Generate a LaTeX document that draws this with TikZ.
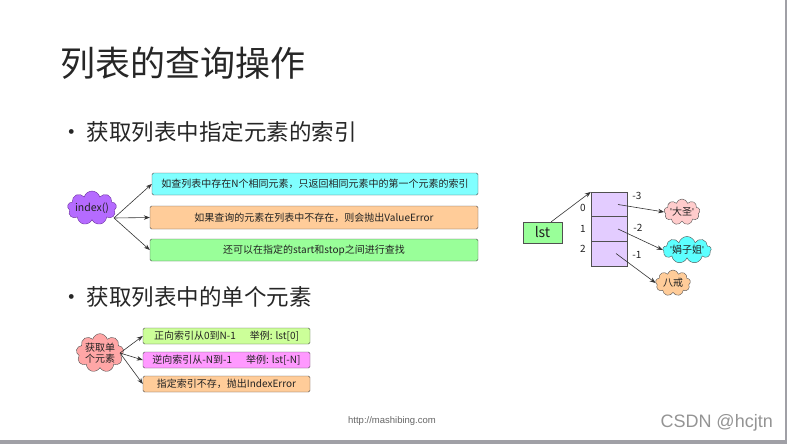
\documentclass[tikz,border=0pt]{standalone}
\usepackage{fontspec}
\setmainfont{Noto Sans CJK SC}
\newfontfamily\arialf{Liberation Sans}
\usetikzlibrary{shapes.symbols,arrows.meta}
\definecolor{boxline}{HTML}{505050}
\definecolor{arrc}{HTML}{333333}
\definecolor{txtc}{HTML}{222222}
\definecolor{cyanbox}{HTML}{80FFFF}
\definecolor{orangebox}{HTML}{FFCC99}
\definecolor{greenbox}{HTML}{99FF99}
\definecolor{purplecl}{HTML}{B56BFF}
\definecolor{purpleln}{HTML}{6A2E9E}
\definecolor{pinkcl}{HTML}{FFA6A6}
\definecolor{lightpink}{HTML}{FFCCCC}
\definecolor{cyancl}{HTML}{5CFFFF}
\definecolor{cellc}{HTML}{E3CCFF}
\definecolor{ygreen}{HTML}{CCFF99}
\definecolor{magbox}{HTML}{FF99FF}
\definecolor{frame}{HTML}{A0A0A6}
\newcommand{\sq}{{\arialf\char"0027}}
\begin{document}
\begin{tikzpicture}[x=1pt,y=-1pt,
  box/.style={draw=boxline, rounded corners=1.5pt, inner sep=0pt, text=txtc,
    font=\fontsize{10}{12}\selectfont},
  sbox/.style={box, minimum width=167pt, minimum height=16pt, font=\fontsize{10}{12}\selectfont},
  cloudn/.style={cloud, cloud puffs=9, cloud ignores aspect, inner sep=0pt, draw=boxline, text=txtc,
    font=\fontsize{10}{12}\selectfont},
  arr/.style={-{Stealth[length=6pt,width=4.5pt]}, draw=arrc, line width=0.6pt},
  lbl/.style={inner sep=0pt, text=txtc, font=\fontsize{10}{12}\selectfont}]
\fill[white] (0,0) rectangle (787,444);
\fill[frame] (785,0) rectangle (787,444);
\fill[frame] (0,440) rectangle (787,444);
\useasboundingbox (0,0) rectangle (787,444);

% title and bullets
\node[anchor=west, inner sep=0pt, text=black!85, font=\fontsize{35}{40}\selectfont] (title) at (60,63) {列表的查询操作};
\node[anchor=west, inner sep=0pt, text=black!85, font=\fontsize{22.5}{26}\selectfont] (b1) at (60,132) {•\hspace{4pt}获取列表中指定元素的索引};
\node[anchor=west, inner sep=0pt, text=black!85, font=\fontsize{22.5}{26}\selectfont] (b2) at (60,297) {•\hspace{4pt}获取列表中的单个元素};

% index() diagram
\node[cloudn, fill=purplecl, draw=purpleln, minimum width=44pt, minimum height=34pt,
  font=\fontsize{10.5}{12}\selectfont] (idx) at (92,208) {index()};
\node[box, fill=cyanbox, minimum width=326pt, minimum height=22pt] (i1) at (315,184) {如查列表中存在N个相同元素，只返回相同元素中的第一个元素的索引};
\node[box, fill=orangebox, minimum width=328pt, minimum height=23pt] (i2) at (314,217.5) {如果查询的元素在列表中不存在，则会抛出ValueError};
\node[box, fill=greenbox, minimum width=328pt, minimum height=22pt] (i3) at (314,250) {还可以在指定的start和stop之间进行查找};
\coordinate (io) at (114,218);
\draw[arr] (io) -- (i1.west);
\draw[arr] (io) -- (i2.west);
\draw[arr] (io) -- (i3.west);

% single element diagram
\node[cloudn, fill=pinkcl, minimum width=42pt, minimum height=34pt, align=center,
  font=\fontsize{10}{11.5}\selectfont] (get) at (100,353) {获取单\\个元素};
\node[sbox, fill=ygreen] (s1) at (226.5,336) {正向索引从0到N-1\hspace{14pt}举例: lst[0]};
\node[sbox, fill=magbox] (s2) at (226.5,360) {逆向索引从-N到-1\hspace{14pt}举例: lst[-N]};
\node[sbox, fill=orangebox] (s3) at (226.5,384) {指定索引不存，抛出IndexError};
\coordinate (go) at (120,353);
\draw[arr] (go) -- (s1.west);
\draw[arr] (go) -- (s2.west);
\draw[arr] (go) -- (s3.west);

% list memory diagram
\node[box, rounded corners=0pt, fill=greenbox, minimum width=39pt, minimum height=21pt,
  font=\fontsize{14}{16}\selectfont] (lst) at (542.5,232.5) {lst};
\node[draw=boxline, fill=cellc, inner sep=0pt, minimum width=36pt, minimum height=24.7pt] (c0) at (609,204.5) {};
\node[draw=boxline, fill=cellc, inner sep=0pt, minimum width=36pt, minimum height=24.7pt] (c1) at (609,229) {};
\node[draw=boxline, fill=cellc, inner sep=0pt, minimum width=36pt, minimum height=24.7pt] (c2) at (609,253.5) {};
\node[lbl] (n0) at (583,208) {0};
\node[lbl] (n1) at (583,229) {1};
\node[lbl] (n2) at (583,249) {2};
\node[lbl] (m3) at (637,196) {-3};
\node[lbl] (m2) at (638,228) {-2};
\node[lbl] (m1) at (637,255) {-1};
\node[cloudn, fill=lightpink, minimum width=36pt, minimum height=26pt] (dz) at (682,212) {\sq 大圣\sq};
\node[cloudn, fill=cyancl, minimum width=46pt, minimum height=27pt] (jz) at (687,250) {\sq 娟子姐\sq};
\node[cloudn, fill=orangebox, minimum width=35pt, minimum height=26pt] (bj) at (673,283) {八戒};
\draw[arr] ([xshift=-11pt]lst.north east) -- (c0.north west);
\draw[arr] ([xshift=9pt]c0.center) -- (dz.west);
\draw[arr] ([xshift=9pt]c1.center) -- (jz.west);
\draw[arr] ([xshift=7pt]c2.center) -- (bj.west);

% footer
\node[inner sep=0pt, text=black!60, font=\arialf\fontsize{9.5}{11}\selectfont] (url) at (392,421) {http://mashibing.com};
\node[anchor=east, inner sep=0pt, text=black!42, font=\arialf\fontsize{18}{20}\selectfont] (csdn) at (773,423) {CSDN @hcjtn};
\end{tikzpicture}
\end{document}
